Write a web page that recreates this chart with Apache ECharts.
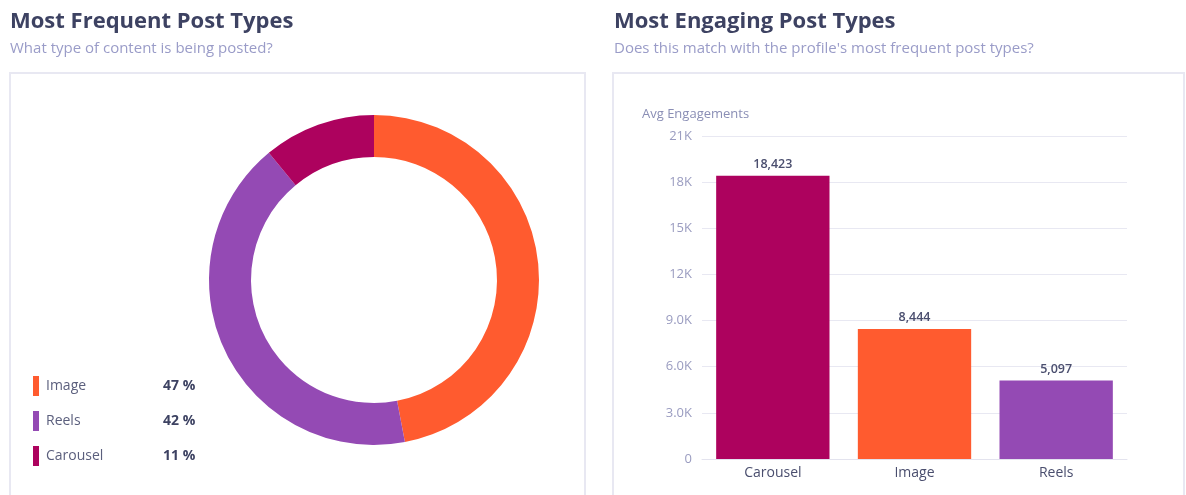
<!DOCTYPE html>
<html>
<head>
<meta charset="utf-8">
<script src="https://cdn.jsdelivr.net/npm/echarts@6/dist/echarts.min.js"></script>
<style>
  html, body { margin: 0; padding: 0; background: #fff; }
  #main { width: 1186px; height: 495px; }
</style>
</head>
<body>
<div id="main"></div>
<script>
// 数据
var shareNames = ["Image", "Reels", "Carousel"];
var shareValues = [47, 42, 11];
var shareColors = ["#FF5B2F", "#944AB4", "#AD025E"];

var barCategories = ["Carousel", "Image", "Reels"];
var barValues = [18423, 8444, 5097];
var barColors = ["#AD025E", "#FF5B2F", "#944AB4"];
var yTickLabels = ["0", "3.0K", "6.0K", "9.0K", "12K", "15K", "18K", "21K"];

var FONT = "'Open Sans', 'Noto Sans', sans-serif";

(function () {
    var myChart = echarts.init(document.getElementById("main"));

    var pieData = shareNames.map(function (n, i) {
        return { name: n, value: shareValues[i], itemStyle: { color: shareColors[i] } };
    });

    var option = {
        textStyle: { fontFamily: FONT },
        animation: false,
        title: [
            {
                text: "Most Frequent Post Types",
                subtext: "What type of content is being posted?",
                left: 5, top: 6, itemGap: 8,
                textStyle: { fontSize: 22, fontWeight: "bold", color: "#3D4262", fontFamily: FONT },
                subtextStyle: { fontSize: 15, color: "#9A9CC8", fontFamily: FONT },
            },
            {
                text: "Most Engaging Post Types",
                subtext: "Does this match with the profile's most frequent post types?",
                left: 609, top: 6, itemGap: 8,
                textStyle: { fontSize: 22, fontWeight: "bold", color: "#3D4262", fontFamily: FONT },
                subtextStyle: { fontSize: 15, color: "#9A9CC8", fontFamily: FONT },
            },
        ],
        // 卡片边框
        graphic: [
            {
                type: "rect", silent: true,
                shape: { x: 10, y: 73, width: 575, height: 440 },
                style: { fill: "none", stroke: "#E8E8F2", lineWidth: 2 },
            },
            {
                type: "rect", silent: true,
                shape: { x: 613, y: 73, width: 571, height: 440 },
                style: { fill: "none", stroke: "#E8E8F2", lineWidth: 2 },
            },
        ],
        legend: {
            orient: "vertical",
            left: 28, top: 371,
            icon: "rect",
            itemWidth: 6, itemHeight: 20,
            itemGap: 15,
            data: shareNames,
            formatter: function (name) {
                var i = shareNames.indexOf(name);
                return "{n|" + name + "}{v|" + shareValues[i] + " %}";
            },
            textStyle: {
                rich: {
                    n: { width: 117, fontSize: 14, color: "#5B5F7D", fontFamily: FONT, padding: [0, 0, 0, 2] },
                    v: { fontSize: 14, fontWeight: "bold", color: "#3D4262", fontFamily: FONT },
                },
            },
        },
        grid: {
            left: 702, right: 59, top: 136, bottom: 36,
            containLabel: false,
        },
        xAxis: {
            type: "category",
            data: barCategories,
            axisTick: { show: false },
            axisLine: { lineStyle: { color: "#E3E3EE", width: 1 } },
            axisLabel: { color: "#4A4E6E", fontSize: 14, margin: 7, fontFamily: FONT },
        },
        yAxis: {
            type: "value",
            min: 0, max: 21000, interval: 3000,
            name: "Avg Engagements",
            nameLocation: "end",
            nameGap: 15,
            nameTextStyle: { color: "#8A8EB5", fontSize: 13, align: "left", padding: [0, 0, 0, -60], fontFamily: FONT },
            axisLine: { show: false },
            axisTick: { show: false },
            axisLabel: {
                color: "#9A9CC0", fontSize: 13, margin: 10, fontFamily: FONT,
                formatter: function (v) { return yTickLabels[Math.round(v / 3000)]; },
            },
            splitLine: { lineStyle: { color: "#E8E8F2", width: 1 } },
        },
        series: [
            {
                type: "pie",
                center: [374, 280],
                radius: [123, 165],
                startAngle: 90,
                clockwise: true,
                label: { show: false },
                labelLine: { show: false },
                data: pieData,
            },
            {
                type: "bar",
                barCategoryGap: "20%",
                data: barValues.map(function (v, i) {
                    return { value: v, itemStyle: { color: barColors[i] } };
                }),
                label: {
                    show: true,
                    position: "top",
                    distance: 5,
                    color: "#4A4E6E",
                    fontSize: 12.5,
                    fontWeight: 600,
                    fontFamily: FONT,
                    formatter: function (p) { return p.value.toLocaleString("en-US"); },
                },
            },
        ],
    };
    myChart.setOption(option);
})();
</script>
</body>
</html>
